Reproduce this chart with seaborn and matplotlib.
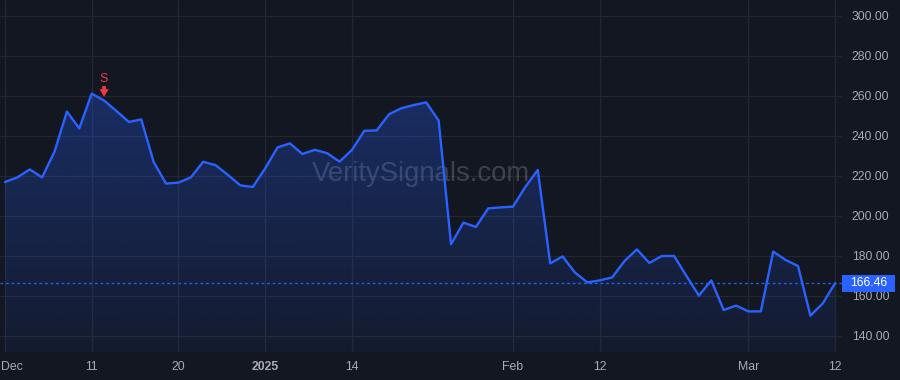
import numpy as np
import pandas as pd
import matplotlib
matplotlib.use("Agg")
import matplotlib.pyplot as plt
import matplotlib.transforms as mtransforms
from matplotlib.patches import Rectangle
import seaborn as sns

# ---- data ----
prices = [217.0, 219.3, 223.3, 219.3, 232.2, 252.2, 243.8, 261.2, 257.7, 252.5,
          247.0, 248.3, 227.0, 216.2, 216.7, 219.3, 227.1, 225.4, 220.5, 215.3,
          214.5, 223.8, 234.3, 236.3, 231.0, 233.1, 231.4, 227.2, 233.0, 242.6,
          242.8, 250.9, 253.9, 255.5, 256.8, 247.7, 185.9, 196.7, 194.5, 203.8,
          204.3, 204.7, 214.6, 223.0, 176.3, 179.8, 171.7, 166.8, 167.8, 169.3,
          177.5, 183.3, 176.5, 180.0, 180.0, 170.0, 160.2, 167.8, 153.0, 155.2,
          152.3, 152.3, 182.2, 178.0, 175.0, 150.2, 156.3, 166.46]
day_index = list(range(len(prices)))
tick_days = [0, 7, 14, 21, 28, 41, 48, 60, 67]
tick_labels = ["Dec", "11", "20", "2025", "14", "Feb", "12", "Mar", "12"]
y_ticks = [140, 160, 180, 200, 220, 240, 260, 280, 300]
signal_day = 8
signal_label = "S"
last_price = prices[-1]
watermark = "VeritySignals.com"

# ---- style ----
BG = "#131722"
GRID = "#232733"
LINE = "#2962ff"
TXT = "#a8abb4"
RED = "#f23645"
FONT = ["Liberation Sans", "DejaVu Sans"]

sns.set_theme(style="dark")
plt.rcParams["font.family"] = FONT

W, H = 900, 380
fig = plt.figure(figsize=(9, 3.8), dpi=100, facecolor=BG)
ax = fig.add_axes([0, 28 / H, 842 / W, 352 / H])
ax.set_facecolor(BG)

df = pd.DataFrame({"day": day_index, "price": prices})

x0, x1 = -0.40, 67.55
y0, y1 = 132, 308
ax.set_xlim(x0, x1)
ax.set_ylim(y0, y1)

# grid
for t in tick_days:
    ax.axvline(t, color=GRID, lw=0.9, zorder=0)
for t in y_ticks:
    ax.axhline(t, color=GRID, lw=0.9, zorder=0)

# watermark
ax.text(0.5, 0.505, watermark, transform=ax.transAxes, ha="center", va="center",
        fontsize=19.8, color=(0.62, 0.64, 0.68, 0.30), zorder=1, family=FONT)

# gradient fill under the line
poly = ax.fill_between(df["day"], df["price"], y0, color="none", zorder=2)
grad = np.zeros((256, 1, 4))
grad[:, 0, 0:3] = matplotlib.colors.to_rgb(LINE)
grad[:, 0, 3] = np.linspace(0.30, 0.06, 256)
top = max(prices)
im = ax.imshow(grad, aspect="auto", extent=[x0, x1, y0, top], origin="upper",
               zorder=2, interpolation="bilinear")
im.set_clip_path(poly.get_paths()[0], transform=ax.transData)

# line
sns.lineplot(data=df, x="day", y="price", ax=ax, color=LINE, lw=1.7, zorder=3)

# last price dotted line
ax.axhline(last_price, color=LINE, lw=1.0, ls=(0, (2.0, 2.0)), alpha=0.9, zorder=2.5)

# signal marker
ax.annotate("", xy=(signal_day, prices[signal_day]), xycoords="data",
            xytext=(0, 10.5), textcoords="offset points",
            arrowprops=dict(arrowstyle="simple,head_width=0.55,head_length=0.45,tail_width=0.22",
                            color=RED, shrinkA=0, shrinkB=2.8, lw=0),
            zorder=5)
ax.annotate(signal_label, xy=(signal_day, prices[signal_day]), xycoords="data",
            xytext=(0, 15.5), textcoords="offset points", ha="center", va="center",
            fontsize=9, color=RED, zorder=5, family=FONT)

# axes / ticks
ax.yaxis.tick_right()
ax.set_yticks(y_ticks)
ax.set_yticklabels([f"{v:.2f}" for v in y_ticks])
ax.set_xticks(tick_days)
ax.set_xticklabels(tick_labels)
ax.tick_params(axis="both", length=0, colors=TXT, labelsize=8.8)
ax.tick_params(axis="y", pad=7)
ax.tick_params(axis="x", pad=6.5)
xlabs = ax.get_xticklabels()
for lab in xlabs:
    if lab.get_text() == "2025":
        lab.set_fontweight("bold")
# keep the first label inside the figure
first = xlabs[0]
first.set_horizontalalignment("left")
first.set_transform(first.get_transform() +
                    mtransforms.ScaledTranslation(-4 / 100, 0, fig.dpi_scale_trans))
ax.set_xlabel("")
ax.set_ylabel("")
ax.grid(False)
for s in ax.spines.values():
    s.set_visible(False)

# price label box on the right axis
y_pix = ax.transData.transform((0, last_price))[1]
box_h = 17
fig.patches.append(Rectangle((842 / W, (y_pix - box_h / 2) / H), 53 / W, box_h / H,
                             transform=fig.transFigure, facecolor=LINE,
                             edgecolor="none", zorder=6))
fig.text(869 / W, y_pix / H, f"{last_price:.2f}", ha="center", va="center",
         fontsize=8.8, color="white", zorder=7, family=FONT)

fig.savefig("out.png", dpi=100, facecolor=BG)
